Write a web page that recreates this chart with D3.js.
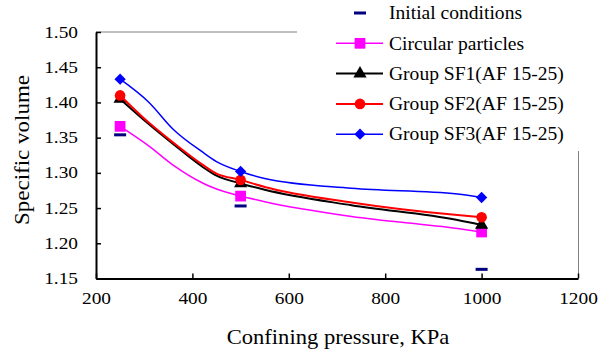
<!DOCTYPE html>
<html>
<head>
<meta charset="utf-8">
<script src="https://cdn.jsdelivr.net/npm/d3@7"></script>
</head>
<body style="margin:0;background:#fff">
<svg id="viz" width="610" height="354" style="font-family: 'Times New Roman', 'Liberation Serif', Tinos, serif"></svg>
<script>
// line knots (kPa), markers only at 250 / 500 / 1000
const pressure = [250, 310, 360, 420, 450, 500, 550, 730, 950, 1000];
const circular = [1.366, 1.338, 1.311, 1.286, 1.277, 1.267, 1.259, 1.238, 1.221, 1.216];
const sf1 = [1.405, 1.369, 1.341, 1.309, 1.296, 1.285, 1.276, 1.254, 1.233, 1.226];
const sf2 = [1.410, 1.371, 1.343, 1.312, 1.299, 1.290, 1.280, 1.258, 1.240, 1.237];
const sf3 = [1.433, 1.400, 1.362, 1.330, 1.316, 1.302, 1.292, 1.278, 1.270, 1.265];
const markerPressure = [250, 500, 1000];
const initialPressure = [250, 500, 1000];
const initialValues = [1.354, 1.253, 1.163];
const xTicks = [200, 400, 600, 800, 1000, 1200];
const yTicks = [1.15, 1.20, 1.25, 1.30, 1.35, 1.40, 1.45, 1.50];
const seriesNames = ["Initial conditions", "Circular particles", "Group SF1(AF 15-25)", "Group SF2(AF 15-25)", "Group SF3(AF 15-25)"];

const serif = "'Times New Roman', 'Liberation Serif', Tinos, serif";

let svg = d3.select("#viz");

let x = d3.scaleLinear().domain([200, 1200]).range([96, 578]);
let y = d3.scaleLinear().domain([1.15, 1.50]).range([278.5, 32]);

// widen text around its anchor x (the original text is drawn wide)
function stretch(sel, k) {
    sel.each(function () {
        let ax = +this.getAttribute("x") || 0;
        d3.select(this).attr("transform", `translate(${ax},0) scale(${k},1) translate(${-ax},0)`);
    });
}

// diamond = square turned 45deg
const diamond = {
    draw(ctx, size) {
        let r = Math.sqrt(size) / 2 * Math.SQRT2;
        ctx.moveTo(0, -r);
        ctx.lineTo(r, 0);
        ctx.lineTo(0, r);
        ctx.lineTo(-r, 0);
        ctx.closePath();
    }
};

// gray frame on top / right
svg.append("line").attr("x1", 96).attr("x2", 578).attr("y1", 32).attr("y2", 32)
    .attr("stroke", "#808080").attr("stroke-width", 1);
svg.append("line").attr("x1", 578.5).attr("x2", 578.5).attr("y1", 32).attr("y2", 278)
    .attr("stroke", "#808080").attr("stroke-width", 1);

// axes
let xAxis = svg.append("g").attr("transform", "translate(0,278.5)")
    .call(d3.axisBottom(x).tickValues(xTicks).tickFormat(d3.format("d")).tickSize(-5).tickSizeOuter(0).tickPadding(14));
let yAxis = svg.append("g").attr("transform", "translate(96,0)")
    .call(d3.axisLeft(y).tickValues(yTicks).tickFormat(d3.format(".2f")).tickSize(-5).tickSizeOuter(0).tickPadding(18));

[xAxis, yAxis].forEach(a => {
    a.attr("font-family", serif).attr("font-size", 16);
    a.select(".domain").attr("stroke", "#000").attr("stroke-width", 2);
    a.selectAll(".tick line").attr("stroke", "#000").attr("stroke-width", 1.5);
    a.selectAll(".tick text").style("font-family", serif).style("font-size", "16px").attr("fill", "#000");
});
xAxis.selectAll(".tick text").attr("dy", "0.71em");
stretch(xAxis.selectAll(".tick text"), 1.21);
stretch(yAxis.selectAll(".tick text"), 1.21);

// axis titles
svg.append("text").attr("x", 338).attr("y", 344).attr("text-anchor", "middle")
    .style("font-family", serif).style("font-size", "20px")
    .text("Confining pressure, KPa")
    .call(stretch, 1.13);
svg.append("text").attr("transform", "translate(29,150) rotate(-90) scale(1.15,1)").attr("text-anchor", "middle")
    .style("font-family", serif).style("font-size", "20px")
    .text("Specific volume");

// legend box hides the frame corner
svg.append("rect").attr("x", 297).attr("y", 0).attr("width", 313).attr("height", 151).attr("fill", "#fff");

let series = [
    { name: seriesNames[1], values: circular, color: "#ff00ff", width: 1.5, shape: d3.symbolSquare, size: 115 },
    { name: seriesNames[2], values: sf1, color: "#000000", width: 2, shape: d3.symbolTriangle, size: 75 },
    { name: seriesNames[3], values: sf2, color: "#ff0000", width: 2, shape: d3.symbolCircle, size: 88 },
    { name: seriesNames[4], values: sf3, color: "#0000ff", width: 1.5, shape: diamond, size: 64 }
];

let line = d3.line()
    .x(d => x(d[0]))
    .y(d => y(d[1]))
    .curve(d3.curveMonotoneX);

// initial conditions dashes
svg.selectAll(".initial")
    .data(d3.zip(initialPressure, initialValues))
    .join("rect")
    .attr("class", "initial")
    .attr("x", d => x(d[0]) - 6)
    .attr("y", d => y(d[1]) - 1.5)
    .attr("width", 12)
    .attr("height", 3)
    .attr("fill", "#000080");

series.forEach(s => {
    let pts = d3.zip(pressure, s.values);
    svg.append("path")
        .attr("d", line(pts))
        .attr("fill", "none")
        .attr("stroke", s.color)
        .attr("stroke-width", s.width);
    svg.selectAll(null)
        .data(pts.filter(p => markerPressure.includes(p[0])))
        .join("path")
        .attr("d", d3.symbol().type(s.shape).size(s.size))
        .attr("transform", d => `translate(${x(d[0])},${y(d[1])})`)
        .attr("fill", s.color);
});

// legend
let legend = svg.append("g");
let ly = d => 13 + d * 30.3;
legend.append("rect").attr("x", 354).attr("y", ly(0) - 1.5).attr("width", 12).attr("height", 3).attr("fill", "#000080");
series.forEach((s, i) => {
    legend.append("line").attr("x1", 336).attr("x2", 383).attr("y1", ly(i + 1)).attr("y2", ly(i + 1))
        .attr("stroke", s.color).attr("stroke-width", s.width);
    legend.append("path").attr("d", d3.symbol().type(s.shape).size(s.size))
        .attr("transform", `translate(360,${ly(i + 1)})`).attr("fill", s.color);
});
legend.selectAll("text")
    .data(seriesNames)
    .join("text")
    .attr("x", 389)
    .attr("y", (d, i) => ly(i))
    .attr("dy", "0.33em")
    .style("font-family", serif)
    .style("font-size", "19px")
    .text(d => d)
    .call(stretch, 1.03);
</script>
</body>
</html>
